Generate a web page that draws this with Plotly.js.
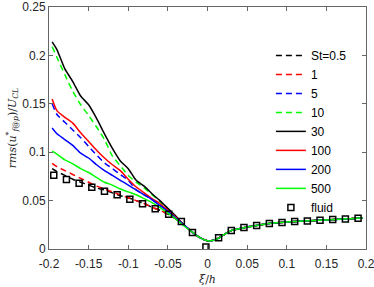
<!DOCTYPE html>
<html>
<head>
<meta charset="utf-8">
<script src="https://cdn.plot.ly/plotly-3.0.1.min.js"></script>
<style>html,body{margin:0;padding:0;background:#fff;}#chart{width:374px;height:287px;}</style>
</head>
<body>
<div id="chart"></div>
<script>
// x positions (xi/h) for the St curves
const xLine = [-0.196,-0.19,-0.18,-0.17,-0.16,-0.15,-0.14,-0.13,-0.12,-0.11,-0.10,-0.09,-0.08,-0.07,-0.06,-0.05,-0.04,-0.03,-0.02,-0.01,0,0.01,0.02,0.03,0.04,0.05,0.06,0.08,0.10,0.12,0.14,0.16,0.18,0.196];

const seriesNames = ["St=0.5","1","5","10","30","100","200","500"];

const ySt05 = [0.083,0.080,0.076,0.072,0.069,0.066,0.063,0.061,0.058,0.055,0.053,0.050,0.047,0.043,0.040,0.036,0.031,0.025,0.018,0.012,0.0085,0.0095,0.0145,0.019,0.021,0.0228,0.024,0.0265,0.0278,0.0288,0.0296,0.0305,0.0313,0.0322];
const ySt1   = [0.0885,0.085,0.081,0.077,0.073,0.069,0.065,0.062,0.059,0.056,0.053,0.050,0.047,0.043,0.040,0.036,0.031,0.025,0.018,0.012,0.0085,0.0095,0.0145,0.019,0.021,0.0228,0.024,0.0265,0.0278,0.0288,0.0296,0.0305,0.0313,0.0322];
const ySt5   = [0.150,0.139,0.131,0.123,0.115,0.106,0.097,0.089,0.083,0.077,0.071,0.061,0.056,0.051,0.045,0.039,0.032,0.025,0.018,0.012,0.0085,0.0095,0.0145,0.019,0.021,0.0228,0.024,0.0265,0.0278,0.0288,0.0296,0.0305,0.0313,0.0322];
const ySt10  = [0.209,0.198,0.180,0.163,0.149,0.138,0.126,0.113,0.096,0.086,0.076,0.069,0.063,0.056,0.049,0.041,0.033,0.025,0.018,0.012,0.0085,0.0095,0.0145,0.019,0.021,0.0228,0.024,0.0265,0.0278,0.0288,0.0296,0.0305,0.0313,0.0322];
const ySt30  = [0.214,0.206,0.186,0.173,0.158,0.149,0.135,0.119,0.104,0.091,0.083,0.071,0.065,0.057,0.050,0.042,0.034,0.025,0.018,0.012,0.0085,0.0095,0.0145,0.019,0.021,0.0228,0.024,0.0265,0.0278,0.0288,0.0296,0.0305,0.0313,0.0322];
const ySt100 = [0.155,0.143,0.136,0.130,0.120,0.111,0.102,0.094,0.087,0.081,0.072,0.064,0.058,0.052,0.047,0.040,0.033,0.025,0.018,0.012,0.0085,0.0095,0.0145,0.019,0.021,0.0228,0.024,0.0265,0.0278,0.0288,0.0296,0.0305,0.0313,0.0322];
const ySt200 = [0.125,0.119,0.113,0.107,0.099,0.094,0.087,0.081,0.076,0.071,0.066,0.061,0.056,0.051,0.045,0.039,0.032,0.025,0.018,0.012,0.0085,0.0095,0.0145,0.019,0.021,0.0228,0.024,0.0265,0.0278,0.0288,0.0296,0.0305,0.0313,0.0322];
const ySt500 = [0.101,0.098,0.092,0.088,0.083,0.079,0.074,0.069,0.066,0.062,0.059,0.056,0.052,0.048,0.043,0.037,0.031,0.024,0.018,0.012,0.0085,0.0095,0.0145,0.019,0.021,0.0228,0.024,0.0265,0.0278,0.0288,0.0296,0.0305,0.0313,0.0322];

// fluid reference (squares)
const xFluid = [-0.194,-0.178,-0.162,-0.146,-0.130,-0.114,-0.098,-0.082,-0.066,-0.049,-0.033,-0.019,-0.002,0.014,0.030,0.046,0.062,0.078,0.094,0.110,0.126,0.142,0.158,0.174,0.190];
const yFluid = [0.0761,0.0717,0.0679,0.0638,0.0597,0.0560,0.0515,0.0468,0.0417,0.0359,0.0284,0.0171,0.0020,0.0116,0.0192,0.0222,0.0243,0.0263,0.0274,0.0284,0.0290,0.0297,0.0304,0.0310,0.0318];

const xTicks = [-0.2,-0.15,-0.1,-0.05,0,0.05,0.1,0.15,0.2];
const xTickText = ["-0.2","-0.15","-0.1","-0.05","0","0.05","0.1","0.15","0.2"];
const yTicks = [0,0.05,0.1,0.15,0.2,0.25];
const yTickText = ["0","0.05","0.1","0.15","0.2","0.25"];

const ySeries = [ySt05,ySt1,ySt5,ySt10,ySt30,ySt100,ySt200,ySt500];
const colors = ["#000000","#ff0000","#0000ff","#00ff00","#000000","#ff0000","#0000ff","#00ff00"];
const dashes = ["6px,4px","6px,4px","6px,4px","6px,4px","solid","solid","solid","solid"];

const traces = ySeries.map((ys,i)=>({
  x: xLine, y: ys, name: seriesNames[i], type:'scatter', mode:'lines',
  line:{color:colors[i], width:1.5, dash:dashes[i], shape:'spline', smoothing:0.6}
}));
traces.push({
  x: xFluid, y: yFluid, name:'fluid', type:'scatter', mode:'markers',
  marker:{symbol:'square-open', size:6, color:'#000000', line:{width:1.5, color:'#000000'}}
});

const axisCommon = {
  showgrid:false, zeroline:false, showline:true, mirror:'ticks',
  linecolor:'#666666', linewidth:1, ticks:'inside', ticklen:4, tickcolor:'#666666',
  ticklabeloverflow:'allow', automargin:false,
  tickfont:{family:'Liberation Sans, Arial, sans-serif', size:12, color:'#262626'}
};

const layout = {
  width:374, height:287,
  margin:{l:49, r:8, t:7, b:38},
  paper_bgcolor:'#ffffff', plot_bgcolor:'#ffffff',
  showlegend:true,
  legend:{x:0.70, y:0.86, xanchor:'left', yanchor:'top', bgcolor:'rgba(255,255,255,0)',
    font:{family:'Liberation Sans, Arial, sans-serif', size:12, color:'#000000'}, tracegroupgap:0},
  xaxis:Object.assign({}, axisCommon, {range:[-0.2,0.2], tickmode:'array', tickvals:xTicks, ticktext:xTickText,
    ticklabelstandoff:4,
    title:{text:'<i>ξ</i>/<i>h</i>', font:{family:'DejaVu Serif, serif', size:11, color:'#262626'}, standoff:4}}),
  yaxis:Object.assign({}, axisCommon, {range:[0,0.25], tickmode:'array', tickvals:yTicks, ticktext:yTickText,
    title:{text:'<i>rms</i>(<i>u</i><sup>*</sup><sub><i>f</i>@<i>p</i></sub>)/<i>U</i><sub><i>CL</i></sub>', font:{family:'DejaVu Serif, serif', size:11, color:'#262626'}, standoff:3}})
};

Plotly.newPlot('chart', traces, layout, {staticPlot:true, displayModeBar:false});
</script>
</body>
</html>
